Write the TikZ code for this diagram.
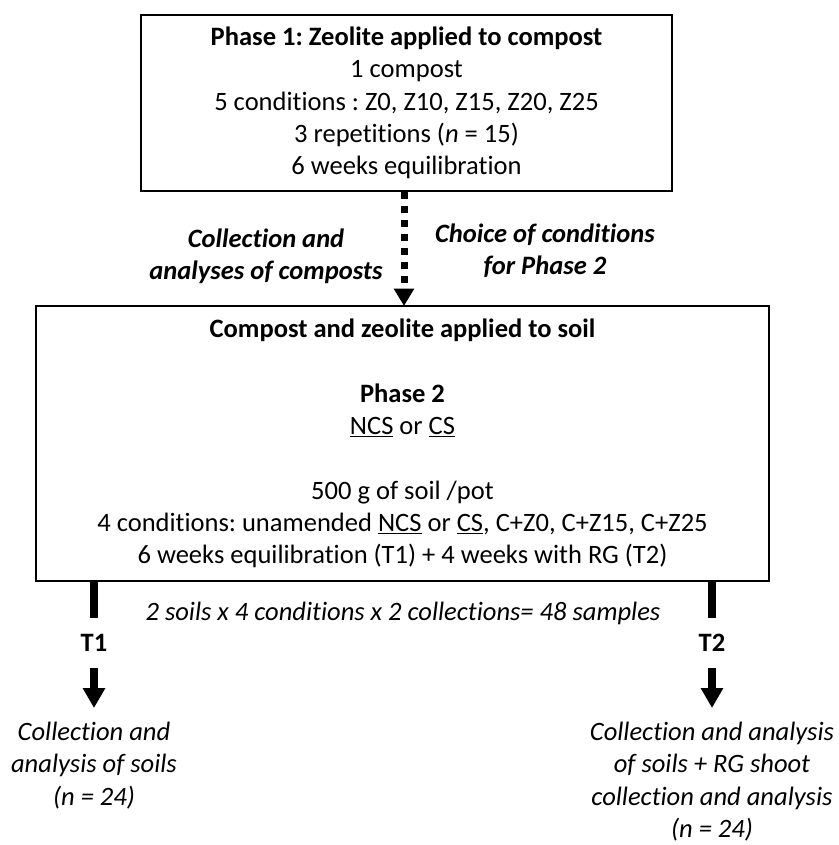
\documentclass[tikz,border=0pt]{standalone}
\usepackage{fontspec}
\setmainfont[Ligatures=NoCommon]{Carlito}
\usetikzlibrary{arrows.meta,positioning}

\tikzset{
  phasebox/.style={draw, line width=1.2pt, align=center, inner sep=0pt},
  steplabel/.style={align=center, font=\bfseries\itshape},
  dotarrow/.style={line width=5.25pt, dash pattern=on 5.25pt off 5.25pt,
    -{Triangle[length=13pt,width=14.5pt]}, shorten >=-0.6pt},
  solidarrow/.style={line width=5.5pt, -{Triangle[length=15pt,width=16pt]}},
  solidline/.style={line width=5.5pt},
  timelabel/.style={font=\bfseries, minimum height=37.5pt, inner sep=0pt},
  result/.style={align=center, font=\itshape, inner xsep=0pt, inner ysep=10.5pt}
}

\begin{document}
\frenchspacing
\begin{tikzpicture}[x=0.75pt,y=-0.75pt]
  \fontsize{19.9}{24.2}\selectfont
  \useasboundingbox (0,0) rectangle (838,845);
  % phase 1 box
  \node[phasebox, minimum width=398pt, minimum height=132pt] (box1) at (406.5,103)
    {\textbf{Phase 1: Zeolite applied to compost}\\
     1 compost\\
     5 conditions : Z0, Z10, Z15, Z20, Z25\\
     3 repetitions (\textit{n} = 15)\\
     6 weeks equilibration};
  % phase 2 box
  \node[phasebox, minimum width=549.75pt, minimum height=206.25pt] (box2) at (402.5,443.5)
    {\textbf{Compost and zeolite applied to soil}\\
     \\
     \textbf{Phase 2}\\
     \underline{NCS} or \underline{CS}\\
     \\
     500 g of soil /pot\\
     4 conditions: unamended \underline{NCS} or \underline{CS}, C+Z0, C+Z15, C+Z25\\
     6 weeks equilibration (T1) + 4 weeks with RG (T2)};
  % between the boxes
  \draw[dotarrow] (box1.south -| 404,0) -- (box2.north -| 404,0);
  \node[steplabel] (collect) at (266,256) {Collection and\\analyses of composts};
  \node[steplabel] (choice) at (545,251) {Choice of conditions\\for Phase 2};
  % sampling times
  \node[font=\itshape] (samples) at (403,613) {2 soils x 4 conditions x 2 collections= 48 samples};
  \node[timelabel] (t1) at (94,643) {T1};
  \node[timelabel] (t2) at (712,643) {T2};
  \draw[solidline] (box2.south -| t1) -- (t1.north);
  \draw[solidline] (box2.south -| t2) -- (t2.north);
  \node[result, anchor=north] (res1) at (94,708)
    {Collection and\\analysis of soils\\(n = 24)};
  \node[result, anchor=north] (res2) at (712,708)
    {Collection and analysis\\of soils + RG shoot\\collection and analysis\\(n = 24)};
  \draw[solidarrow] (t1.south) -- (res1.north);
  \draw[solidarrow] (t2.south) -- (res2.north);
\end{tikzpicture}
\end{document}
